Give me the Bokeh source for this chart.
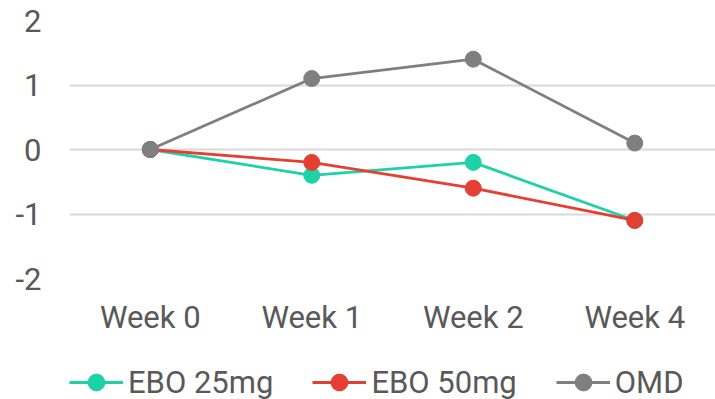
from bokeh.plotting import figure
from bokeh.layouts import column
from bokeh.models import Legend, LegendItem, FixedTicker, CustomJSTickFormatter, Range1d
from bokeh.embed import file_html
from bokeh.resources import INLINE

# Change from baseline by week
weeks = ["Week 0", "Week 1", "Week 2", "Week 4"]
ebo_25 = [0.0, -0.4, -0.2, -1.1]
ebo_50 = [0.0, -0.2, -0.6, -1.1]
omd = [0.0, 1.1, 1.4, 0.1]
y_ticks = [-2, -1, 0, 1, 2]

series = [
    ("EBO 25mg", ebo_25, "#1dd2a6"),
    ("EBO 50mg", ebo_50, "#e53e32"),
    ("OMD", omd, "#7f7f7f"),
]

FONT = "Roboto"
TEXT = "#595959"
LINE_W = 2.8
MARKER = 16

p = figure(
    x_range=weeks, y_range=(-2, 2),
    frame_width=646, frame_height=258,
    min_border_left=69, min_border_right=0,
    min_border_top=20, min_border_bottom=59,
    output_backend="svg", toolbar_location=None,
    background_fill_color="white", border_fill_color="white",
)
p.outline_line_color = None

p.xgrid.grid_line_color = None
p.ygrid.grid_line_color = "#d9d9d9"
p.ygrid.grid_line_width = 2
p.yaxis.ticker = FixedTicker(ticks=y_ticks)
# plain hyphen for negative tick labels
p.yaxis.formatter = CustomJSTickFormatter(code="return tick.toString();")

for ax in (p.xaxis, p.yaxis):
    ax.axis_line_color = None
    ax.major_tick_line_color = None
    ax.minor_tick_line_color = None
    ax.major_tick_out = 0
    ax.major_tick_in = 0
    ax.major_label_text_font = FONT
    ax.major_label_text_font_size = "31px"
    ax.major_label_text_color = TEXT
p.yaxis.major_label_standoff = 28
p.xaxis.major_label_standoff = 20

for name, vals, color in series:
    p.line(weeks, vals, line_color=color, line_width=LINE_W)
    p.scatter(weeks, vals, size=MARKER, fill_color=color, line_color=color)

# Legend strip underneath the chart; its own copies of the series sit
# outside its visible y range, so only the legend entries show.
lg = figure(
    width=715, height=62, x_range=weeks, y_range=Range1d(10, 11),
    x_axis_location=None, y_axis_location=None,
    min_border_left=0, min_border_right=0, min_border_top=0, min_border_bottom=0,
    output_backend="svg", toolbar_location=None,
)
lg.outline_line_color = None
lg.grid.visible = False

items = []
for name, vals, color in series:
    ln = lg.line(weeks, vals, line_color=color, line_width=LINE_W)
    pt = lg.scatter(weeks, vals, size=MARKER, fill_color=color, line_color=color)
    items.append(LegendItem(label=name, renderers=[ln, pt]))

legend = Legend(
    items=items, orientation="horizontal", location=(0, -3),
    label_text_font=FONT, label_text_font_size="31px", label_text_color=TEXT,
    glyph_width=54, glyph_height=42, label_standoff=5, spacing=39,
    padding=0, margin=0, border_line_color=None, background_fill_alpha=0,
)
lg.add_layout(legend)

open("out.html", "w").write(file_html(column(p, lg), INLINE))
